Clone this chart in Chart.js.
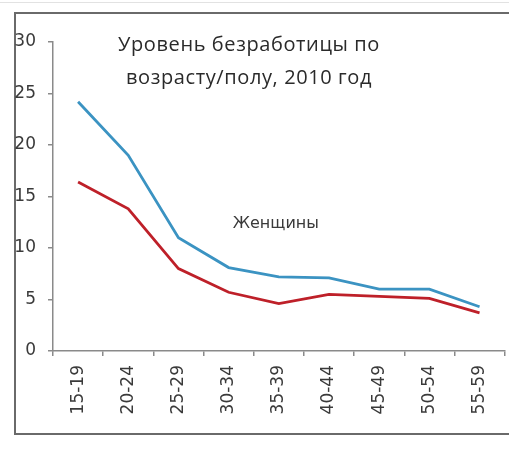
<!DOCTYPE html>
<html>
<head>
<meta charset="utf-8">
<script src="https://cdn.jsdelivr.net/npm/chart.js@4.4.1/dist/chart.umd.min.js"></script>
<style>
  html, body { margin: 0; padding: 0; background: #fff; }
  #wrap { position: relative; width: 509px; height: 451px; overflow: hidden; }
  #frame { position: absolute; left: 14px; top: 12px; width: 520px; height: 423px; border: 2px solid #6a6a6a; box-sizing: border-box; }
  #edge { position: absolute; left: 0; top: 2px; width: 509px; height: 0; border-top: 1px solid #e2e2e2; }
  canvas { position: absolute; left: 0; top: 0; }
</style>
</head>
<body>
<div id="wrap">
  <div id="edge"></div>
  <div id="frame"></div>
  <canvas id="chart" width="509" height="451"></canvas>
</div>
<script>
const ageGroups = ['15-19', '20-24', '25-29', '30-34', '35-39', '40-44', '45-49', '50-54', '55-59'];
const blueSeries = [24.2, 19.0, 11.0, 8.1, 7.2, 7.1, 6.0, 6.0, 4.3];
const redSeries = [16.4, 13.8, 8.0, 5.7, 4.6, 5.5, 5.3, 5.1, 3.7];
const titleLines = ['Уровень безработицы по', 'возрасту/полу, 2010 год'];
const seriesNote = 'Женщины';

const textColor = '#3a3a3a';
const axisColor = '#8a8a8a';

const ctxEl = document.getElementById('chart');

new Chart(ctxEl, {
  type: 'line',
  data: {
    labels: ageGroups,
    datasets: [
      {
        data: blueSeries,
        borderColor: '#3b93c2',
        borderWidth: 2.8,
        pointRadius: 0,
        tension: 0,
        fill: false
      },
      {
        data: redSeries,
        borderColor: '#be2029',
        borderWidth: 2.8,
        pointRadius: 0,
        tension: 0,
        fill: false
      }
    ]
  },
  options: {
    responsive: false,
    animation: false,
    layout: { padding: { top: 42, right: 1, left: 0, bottom: 0 } },
    plugins: {
      legend: { display: false },
      tooltip: { enabled: false }
    },
    scales: {
      x: {
        offset: true,
        grid: { offset: true, drawOnChartArea: false, tickLength: 5, color: axisColor, lineWidth: 1.5 },
        border: { color: axisColor, width: 1.5 },
        ticks: {
          minRotation: 90,
          maxRotation: 90,
          padding: 9,
          color: textColor,
          font: { family: 'DejaVu Sans', size: 17 }
        },
        afterFit: (scale) => { scale.height = 100; }
      },
      y: {
        min: 0,
        max: 30,
        grid: { drawOnChartArea: false, tickLength: 5, color: axisColor, lineWidth: 1.5 },
        border: { color: axisColor, width: 1.5 },
        ticks: {
          stepSize: 5,
          padding: 12,
          color: textColor,
          font: { family: 'DejaVu Sans', size: 17 }
        },
        afterFit: (scale) => { scale.width = 53; }
      }
    }
  },
  plugins: [
    {
      afterDraw: function (chart) {
        // title sits inside the plot area, like the original picture
        let ctx = chart.ctx;
        let xs = chart.scales.x;
        let ys = chart.scales.y;
        ctx.save();
        ctx.fillStyle = '#2a2a2a';
        ctx.textAlign = 'center';
        ctx.textBaseline = 'middle';
        ctx.font = '20px "Open Sans", sans-serif';
        ctx.letterSpacing = '0.6px';
        ctx.fillText(titleLines[0], 249, 45);
        ctx.fillText(titleLines[1], 249, 78);

        // series note next to the lines
        ctx.letterSpacing = '0px';
        ctx.font = '16px "DejaVu Sans"';
        ctx.fillStyle = textColor;
        ctx.fillText(seriesNote, xs.getPixelForValue(4) + 18 - 21, ys.getPixelForValue(12.3));
        ctx.restore();
      }
    }
  ]
});
</script>
</body>
</html>
